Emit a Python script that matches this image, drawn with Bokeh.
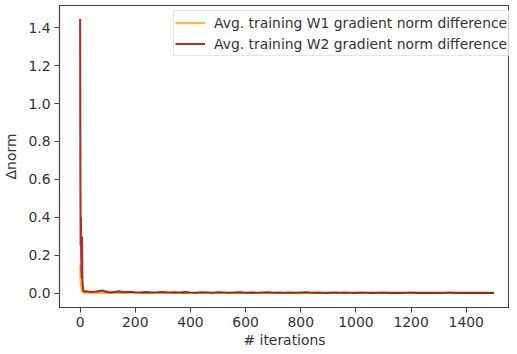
from bokeh.plotting import figure
from bokeh.models import Range1d, FixedTicker, PrintfTickFormatter, Legend, LegendItem
from bokeh.embed import file_html
from bokeh.resources import INLINE

# ---- data ----
iters_head = [0, 1, 2, 3, 4, 5, 6, 7, 8, 9, 10, 11, 12, 14, 16, 18]
w1_head = [0.150, 0.100, 0.060, 0.050, 0.040, 0.030, 0.020, 0.015, 0.010, 0.008,
           0.006, 0.005, 0.004, 0.003, 0.003, 0.003]
w2_head = [1.445, 0.600, 0.250, 0.400, 0.200, 0.120, 0.080, 0.300, 0.100, 0.050,
           0.030, 0.020, 0.012, 0.010, 0.015, 0.008]

iters_tail = list(range(20, 1501, 20))
w1_tail = [0.004, 0.003, 0.004, 0.003, 0.003, 0.003, 0.004, 0.003, 0.003, 0.003,
           0.002, 0.003, 0.002, 0.003, 0.003, 0.002, 0.003, 0.002, 0.003, 0.002,
           0.002, 0.003, 0.002, 0.002, 0.003, 0.002, 0.002, 0.002, 0.003, 0.002,
           0.002, 0.002, 0.002, 0.003, 0.002, 0.002, 0.002, 0.002, 0.002, 0.002,
           0.003, 0.002, 0.002, 0.002, 0.002, 0.002, 0.002, 0.002, 0.002, 0.002,
           0.002, 0.002, 0.002, 0.002, 0.002, 0.002, 0.002, 0.002, 0.002, 0.002,
           0.002, 0.002, 0.002, 0.002, 0.002, 0.002, 0.002, 0.002, 0.002, 0.002,
           0.002, 0.002, 0.002, 0.002, 0.002]
w2_tail = [0.012, 0.008, 0.010, 0.015, 0.007, 0.006, 0.011, 0.006, 0.009, 0.006,
           0.005, 0.007, 0.005, 0.006, 0.008, 0.005, 0.006, 0.005, 0.007, 0.005,
           0.004, 0.006, 0.005, 0.004, 0.006, 0.005, 0.004, 0.005, 0.006, 0.004,
           0.005, 0.004, 0.005, 0.006, 0.004, 0.005, 0.004, 0.005, 0.004, 0.005,
           0.006, 0.004, 0.005, 0.004, 0.003, 0.005, 0.004, 0.005, 0.004, 0.003,
           0.005, 0.004, 0.003, 0.004, 0.005, 0.003, 0.004, 0.003, 0.004, 0.005,
           0.003, 0.004, 0.003, 0.004, 0.003, 0.004, 0.005, 0.003, 0.004, 0.003,
           0.004, 0.003, 0.004, 0.003, 0.003]

iterations = iters_head + iters_tail
w1_diff = w1_head + w1_tail
w2_diff = w2_head + w2_tail

x_ticks = [0, 200, 400, 600, 800, 1000, 1200, 1400]
y_ticks = [0.0, 0.2, 0.4, 0.6, 0.8, 1.0, 1.2, 1.4]
labels = ["Avg. training W1 gradient norm difference",
          "Avg. training W2 gradient norm difference"]

FONT = "DejaVu Sans"
FS = "13.9px"
TXT = "#333333"

p = figure(width=509, height=350, output_backend="svg", toolbar_location=None,
           x_range=Range1d(-74.8, 1556.8), y_range=Range1d(-0.074, 1.516),
           min_border_left=51, min_border_right=0, min_border_top=5, min_border_bottom=43)

p.xgrid.visible = False
p.ygrid.visible = False
p.outline_line_color = "#444444"
p.outline_line_width = 1.1
p.background_fill_color = "white"
p.border_fill_color = "white"

r1 = p.line(iterations, w1_diff, line_color="orange", line_alpha=0.8, line_width=2.1)
r2 = p.line(iterations, w2_diff, line_color="darkred", line_alpha=0.8, line_width=2.1)

for ax in (p.xaxis[0], p.yaxis[0]):
    ax.axis_line_color = "#444444"
    ax.axis_line_width = 1.1
    ax.major_tick_line_color = "#444444"
    ax.major_tick_line_width = 1.1
    ax.major_tick_out = 5
    ax.major_tick_in = 0
    ax.minor_tick_line_color = None
    ax.major_label_text_font = FONT
    ax.major_label_text_font_size = FS
    ax.major_label_text_color = TXT
    ax.axis_label_text_font = FONT
    ax.axis_label_text_font_size = FS
    ax.axis_label_text_color = TXT
    ax.axis_label_text_font_style = "normal"

p.xaxis.ticker = FixedTicker(ticks=x_ticks)
p.yaxis.ticker = FixedTicker(ticks=y_ticks)
p.yaxis.formatter = PrintfTickFormatter(format="%.1f")
p.xaxis.axis_label = "# iterations"
p.yaxis.axis_label = "Δnorm"
p.xaxis.major_label_standoff = 4
p.yaxis.major_label_standoff = 4
p.xaxis.axis_label_standoff = 2
p.yaxis.axis_label_standoff = 6

legend = Legend(items=[LegendItem(label=labels[0], renderers=[r1]),
                       LegendItem(label=labels[1], renderers=[r2])],
                location=(114, 251))
legend.margin = 0
legend.padding = 1
legend.spacing = 0
legend.glyph_width = 30
legend.glyph_height = 21
legend.label_height = 21
legend.label_standoff = 9
legend.label_text_font = FONT
legend.label_text_font_size = FS
legend.label_text_color = TXT
legend.border_line_color = "#cccccc"
legend.border_line_width = 1
legend.background_fill_alpha = 0.8
p.add_layout(legend)

open("out.html", "w").write(file_html(p, INLINE))
